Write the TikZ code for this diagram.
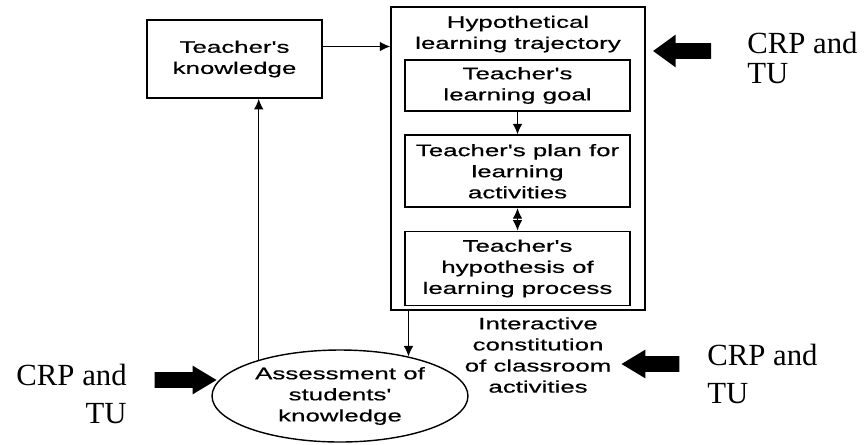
\documentclass[tikz,border=0pt]{standalone}
\usepackage{fontspec}
\usetikzlibrary{arrows.meta,positioning,shapes.geometric,shapes.arrows}
\newfontfamily\diagfont[FakeStretch=1.55,FakeBold=0.5]{Liberation Sans}
\newfontfamily\crpfont{Liberation Serif}

\begin{document}
\begin{tikzpicture}[x=0.02cm,y=-0.02cm,node distance=0.45cm,
    every node/.style={font=\diagfont\fontsize{9.5}{12}\selectfont,align=center},
    tbox/.style={draw,line width=1pt,minimum width=4.5cm,inner sep=1pt},
    arr/.style={-{Latex[length=6pt,width=5.5pt]},line width=0.7pt},
    dblarr/.style={{Latex[length=6pt,width=5.5pt]}-{Latex[length=6pt,width=5.5pt]},line width=0.7pt},
    crp/.style={font=\crpfont\fontsize{17.5}{21.5}\selectfont,inner sep=0pt},
    blockarrow/.style={single arrow,fill=black,draw=none,inner xsep=0pt,inner ysep=0.15cm,
      minimum height=1.16cm,single arrow head extend=0.13cm,single arrow tip angle=62}]
    \useasboundingbox (0,0) rectangle (864,444);
    \node[tbox,minimum width=3.5cm,minimum height=1.56cm] (know) at (234.5,59) {Teacher's\\knowledge};
    \node[draw,line width=0.8pt,minimum width=5.08cm,minimum height=6.06cm] (hlt) at (518,158.5) {};
    \node (title) at (518,34) {Hypothetical\\learning trajectory};
    \node[tbox,minimum height=1.02cm] (goal) at (517.5,85.5) {Teacher's\\learning goal};
    \node[tbox,minimum height=1.44cm,below=of goal] (plan) {Teacher's plan for\\learning\\activities};
    \node[tbox,minimum height=1.48cm,below=of plan] (hypo) {Teacher's\\hypothesis of\\learning process};
    \node[draw,ellipse,line width=0.8pt,minimum width=5.12cm,minimum height=1.84cm,inner sep=0pt] (assess) at (340,396) {Assessment of\\students'\\knowledge};
    \node (inter) at (538,355) {Interactive\\constitution\\of classroom\\activities};
    % CRP and TU
    \node[blockarrow,shape border rotate=180,single arrow head extend=0.17cm,single arrow tip angle=72] (bigtop) at (687.5,51) {};
    \node[blockarrow,shape border rotate=180] (bigmid) at (657,364) {};
    \node[blockarrow,minimum height=1.24cm] (bigleft) at (179,380) {};
    \node[crp,anchor=north west,align=left] (crptop) at (747,32) {CRP and\\[-4.5pt]TU};
    \node[crp,anchor=north west,align=left] (crpmid) at (707,344) {CRP and\\TU};
    \node[crp,anchor=north east,align=right] (crpleft) at (127,364) {CRP and\\TU};
    % connectors
    \draw[arr] ([yshift=0.25cm]know.east) -- ([yshift=0.25cm]know.east -| hlt.west);
    \draw[arr] (goal) -- (plan);
    \draw[dblarr] (plan) -- (hypo);
    \draw[arr] (assess.30 |- hlt.south) -- (assess.30);
    \draw[arr] (assess.156) -- (assess.156 |- know.south);
\end{tikzpicture}
\end{document}
